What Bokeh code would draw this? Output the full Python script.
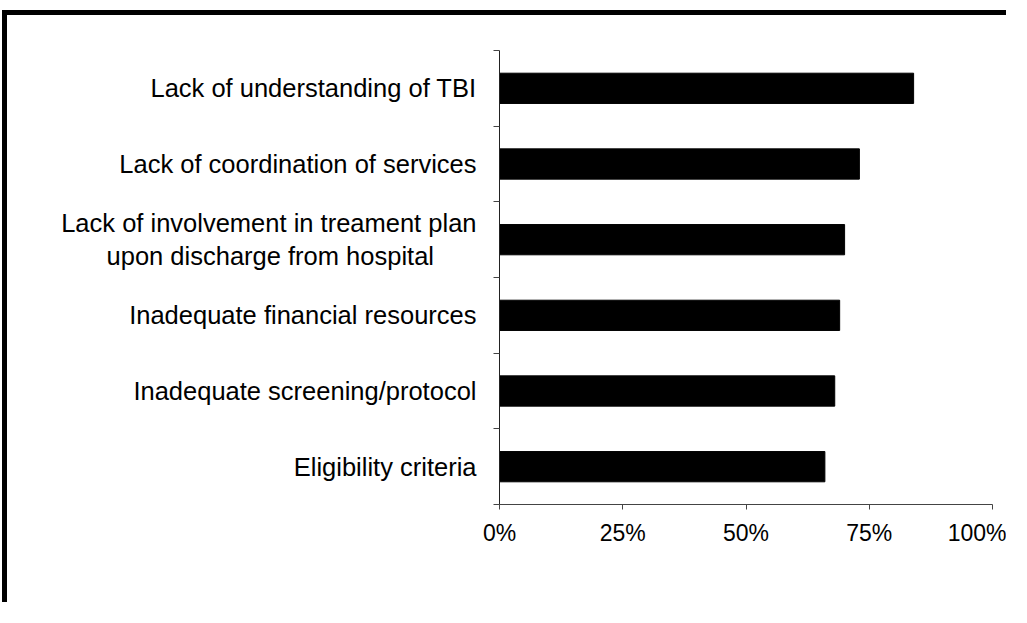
from bokeh.plotting import figure
from bokeh.models import Range1d, FixedTicker, LinearAxis, ColumnDataSource
from bokeh.embed import file_html
from bokeh.resources import INLINE

categories = [
    "Lack of understanding of TBI",
    "Lack of coordination of services",
    "Lack of involvement in treament plan\nupon discharge from hospital",
    "Inadequate financial resources",
    "Inadequate screening/protocol",
    "Eligibility criteria",
]
values = [84, 73, 70, 69, 68, 66]
x_ticks = [0, 25, 50, 75, 100]

n = len(categories)
ypos = [n - 0.5 - i for i in range(n)]
src = ColumnDataSource(dict(y=ypos, v=values, name=categories))


def centered(label):
    # the axis right-aligns the lines of a two-line label; pad the shorter
    # line so that the lines look centred on each other, as in the original
    lines = label.split("\n")
    if len(lines) < 2:
        return label
    longest = max(len(s) for s in lines)
    return "\n".join(s + "\u00a0" * int(round((longest - len(s)) * 0.75)) for s in lines)


p = figure(width=1004, height=592, output_backend="svg", toolbar_location=None,
           x_range=Range1d(0, 100), y_range=Range1d(0, n),
           x_axis_location=None, y_axis_location=None,
           min_border_left=492, min_border_right=19, min_border_top=35, min_border_bottom=103)
p.hbar(y="y", right="v", left=0, height=0.4, source=src, fill_color="black", line_color="black")

p.grid.visible = False
p.outline_line_color = None
p.background_fill_color = "white"
p.border_fill_color = "white"
p.styles = {"border-left": "5px solid black", "border-top": "5px solid black",
            "margin-left": "2px", "margin-top": "10px"}

xa = LinearAxis(ticker=FixedTicker(ticks=x_ticks, minor_ticks=[]))
xa.major_label_overrides = {t: f"{t}%" for t in x_ticks}
xa.major_label_text_font = "Liberation Sans"
xa.major_label_text_font_size = "23px"
xa.major_label_text_color = "black"
xa.major_label_standoff = 10
xa.major_tick_out = 5
xa.major_tick_in = 0
xa.axis_line_color = "#444444"
xa.major_tick_line_color = "#444444"
p.add_layout(xa, "below")

ya = LinearAxis(ticker=FixedTicker(ticks=ypos, minor_ticks=list(range(n + 1))))
ya.major_label_overrides = {y: centered(c) for y, c in zip(ypos, categories)}
ya.major_label_text_font = "Liberation Sans"
ya.major_label_text_font_size = "25.5px"
ya.major_label_text_color = "black"
ya.major_label_standoff = 17
ya.major_tick_out = 0
ya.major_tick_in = 0
ya.minor_tick_out = 6
ya.minor_tick_in = 0
ya.axis_line_color = "#222222"
ya.minor_tick_line_color = "#444444"
p.add_layout(ya, "left")

open("out.html", "w").write(file_html(p, INLINE))
